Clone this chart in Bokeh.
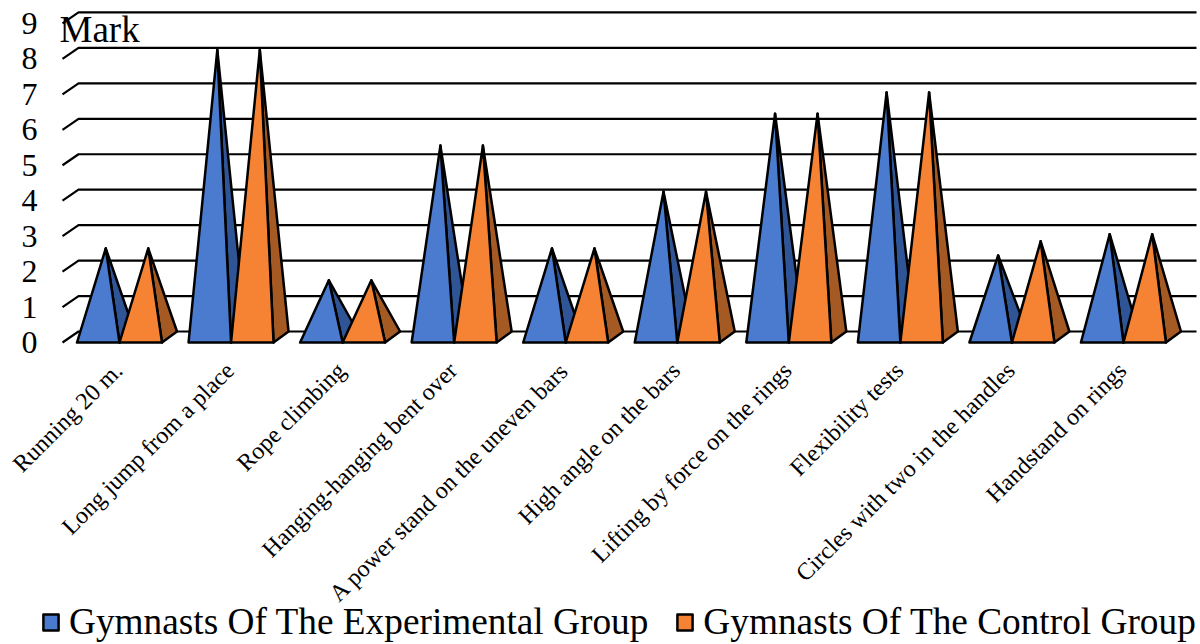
from bokeh.plotting import figure
from bokeh.models import Range1d, FixedTicker, Label, Legend, LegendItem
from bokeh.embed import file_html
from bokeh.resources import INLINE

categories = ["Running 20 m.", "Long jump from a place", "Rope climbing", "Hanging-hanging bent over",
              "A power stand on the uneven bars", "High angle on the bars", "Lifting by force on the rings",
              "Flexibility tests", "Circles with two in the handles", "Handstand on rings"]
experimental = [2.5, 8.1, 1.6, 5.4, 2.5, 4.1, 6.3, 6.9, 2.3, 2.9]
control = [2.5, 8.1, 1.6, 5.4, 2.5, 4.1, 6.3, 6.9, 2.7, 2.9]
y_ticks = list(range(0, 10))
names = ["Gymnasts Of The Experimental Group", "Gymnasts Of The Control Group"]

FONT = "Liberation Serif"
U = 111.55                         # pixels per category
V = 35.45                          # pixels per mark
DX, DY = 15 / U, 11 / V            # 3-D depth in data units
GAP = 14.5 / U
BW = 42.5 / U

# The frame fills the whole figure, so the legend below the axis is not clipped
p = figure(frame_width=1200, frame_height=644, output_backend="svg", toolbar_location=None,
           x_range=Range1d(-62 / U, 1138 / U), y_range=Range1d(-302 / V, 342 / V),
           min_border=0, outline_line_color=None, background_fill_color="white", border_fill_color="white")
p.grid.visible = False

xe = 1134 / U
p.multi_line([[0, 16 / U, xe] for _ in y_ticks], [[v, v + DY, v + DY] for v in y_ticks],
             line_color="black", line_width=2.2)

def pyramid(vals, offset, front, side):
    lefts = [i + GAP + offset for i in range(len(vals))]
    sx, sy, fx, fy = [], [], [], []
    for l, v in zip(lefts, vals):
        r = l + BW
        ax, ay = l + BW / 2 + DX / 2, v + DY / 2
        sx.append([r, r + DX, ax]); sy.append([0, DY, ay])
        fx.append([l, r, ax]); fy.append([0, 0, ay])
    kw = dict(line_color="black", line_width=2.5, line_join="round")
    p.patches(sx, sy, fill_color=side, **kw)
    return p.patches(fx, fy, fill_color=front, **kw)

r1 = pyramid(experimental, 0, "#4A7BCF", "#2F5596")
r2 = pyramid(control, BW, "#F68333", "#A45A22")

yax = p.yaxis[0]
yax.fixed_location = 0
yax.ticker = FixedTicker(ticks=y_ticks)
yax.axis_line_color = None
yax.major_tick_line_color = None
yax.minor_tick_line_color = None
yax.major_label_text_font = FONT
yax.major_label_text_font_size = "32px"
yax.major_label_text_color = "black"
yax.major_label_standoff = 19

xax = p.xaxis[0]
xax.fixed_location = 0
xax.ticker = FixedTicker(ticks=[i + 0.5 for i in range(len(categories))])
xax.major_label_overrides = {i + 0.5: c for i, c in enumerate(categories)}
xax.major_label_orientation = 0.785
xax.major_label_text_font = FONT
xax.major_label_text_font_size = "24px"
xax.major_label_text_color = "black"
xax.axis_line_color = None
xax.major_tick_line_color = None
xax.minor_tick_line_color = None
xax.major_label_standoff = 18

p.add_layout(Label(x=0, y=332 / V, text="Mark", text_font=FONT, text_font_size="37px",
                   text_color="black", text_baseline="top", x_offset=-3, y_offset=2))

legend = Legend(items=[LegendItem(label=names[0], renderers=[r1]), LegendItem(label=names[1], renderers=[r2])],
                orientation="horizontal", location=(41, 1),
                label_text_font=FONT, label_text_font_size="37.3px", label_text_color="black",
                glyph_width=19, glyph_height=20, border_line_color=None, background_fill_alpha=0,
                padding=0, margin=0, spacing=27, label_standoff=9)
p.add_layout(legend, "center")

open("out.html", "w").write(file_html(p, INLINE))
